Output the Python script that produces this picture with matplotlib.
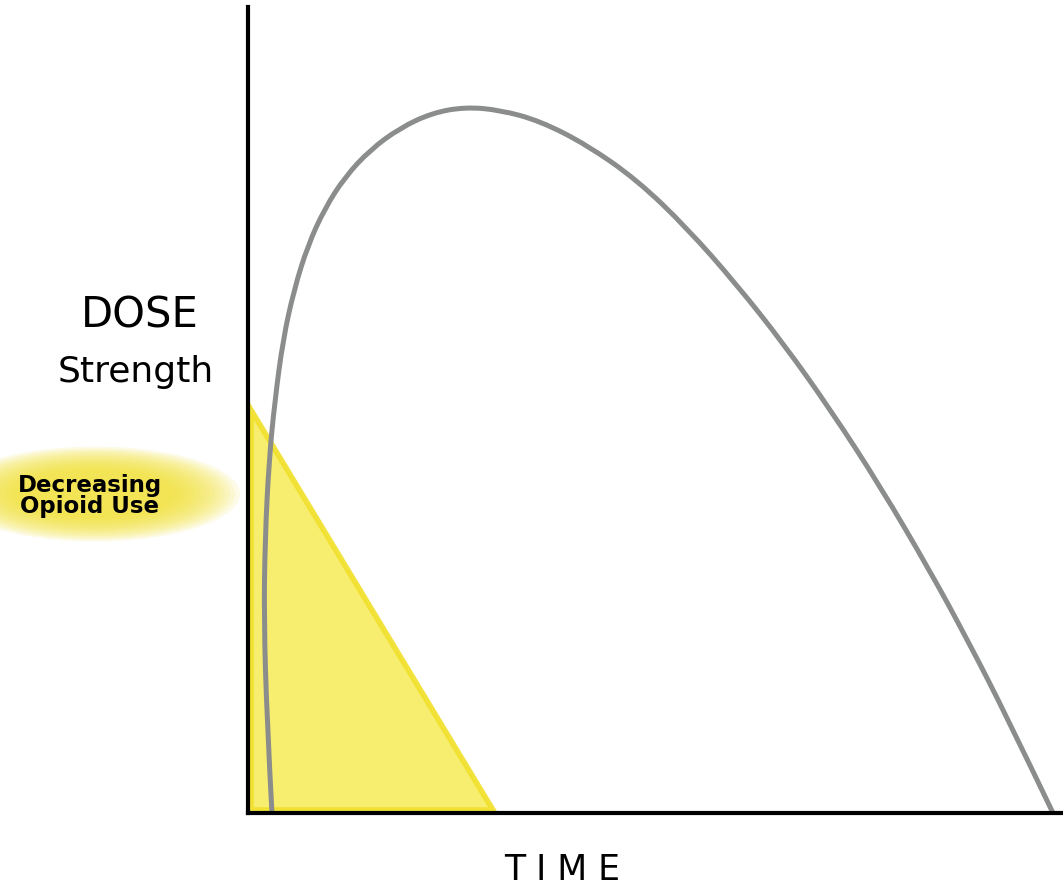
import numpy as np
import matplotlib
matplotlib.use("Agg")
import matplotlib.pyplot as plt
from matplotlib.patches import Ellipse, Polygon, PathPatch
from matplotlib.path import Path

# dose curve (time 0..100, dose 0..100)
tiempo = [2.94, 2.33, 1.96, 2.09, 2.58, 3.31, 4.29, 5.64, 7.36, 9.45, 11.90,
          14.97, 18.65, 22.58, 26.63, 30.92, 35.83, 41.60, 47.73, 53.87, 60.00,
          65.64, 71.41, 77.55, 83.68, 88.22, 93.13, 98.77]
dosis = [0.0, 11.54, 23.95, 33.87, 43.80, 51.24, 58.68, 64.89, 70.47, 75.06,
         78.91, 82.26, 84.99, 86.85, 87.59, 87.22, 85.86, 82.88, 78.54, 72.58,
         65.51, 58.31, 50.12, 40.57, 30.02, 21.59, 11.91, 0.0]

# decreasing opioid use triangle
tri_x = [0.4, 0.4, 30.0]
tri_y = [50.0, 0.4, 0.4]

fig = plt.figure(figsize=(10.63, 8.91), dpi=100)
ax = fig.add_axes([248 / 1063, 78 / 891, 815 / 1063, 806 / 891])
ax.set_xlim(0, 100)
ax.set_ylim(0, 100)

tri = Polygon(list(zip(tri_x, tri_y)), closed=True, facecolor="#f7ec62",
              edgecolor="#f1e02c", lw=4, alpha=0.92, zorder=1)
ax.add_patch(tri)

# smooth hand-drawn look: quadratic bezier path using the read points as controls
pts = np.column_stack([tiempo, dosis])
verts = [pts[0]]
codes = [Path.MOVETO]
for i in range(1, len(pts) - 1):
    fin = pts[-1] if i == len(pts) - 2 else (pts[i] + pts[i + 1]) / 2
    verts += [pts[i], fin]
    codes += [Path.CURVE3, Path.CURVE3]
curva = PathPatch(Path(verts, codes), facecolor="none", edgecolor="#8a8d8c",
                  lw=3.6, capstyle="round", zorder=2)
ax.add_patch(curva)

for s in ["top", "right"]:
    ax.spines[s].set_visible(False)
ax.spines["left"].set_linewidth(3)
ax.spines["bottom"].set_linewidth(3)
ax.spines["left"].set_zorder(3)
ax.spines["bottom"].set_zorder(3)
ax.set_xticks([])
ax.set_yticks([])

# glow behind the label
for i in range(14):
    f = 1 - i / 14
    e = Ellipse((95 / 1063, 1 - 494 / 891), (150 + 140 * f) / 1063,
                (45 + 50 * f) / 891, transform=fig.transFigure,
                facecolor="#f3e33a", edgecolor="none", alpha=0.12, zorder=0)
    fig.add_artist(e)

fig.text(140 / 1063, 1 - 316 / 891, "DOSE", fontsize=30, ha="center",
         va="center", family="DejaVu Sans")
fig.text(136 / 1063, 1 - 372 / 891, "Strength", fontsize=26, ha="center",
         va="center", family="DejaVu Sans")
fig.text(90 / 1063, 1 - 496 / 891, "Decreasing\nOpioid Use", fontsize=16.5,
         ha="center", va="center", fontweight="bold", linespacing=0.9,
         family="DejaVu Sans")
fig.text(562 / 1063, 1 - 870 / 891, "T I M E", fontsize=25, ha="center",
         va="center", family="DejaVu Sans")

fig.savefig("out.png", dpi=100)
